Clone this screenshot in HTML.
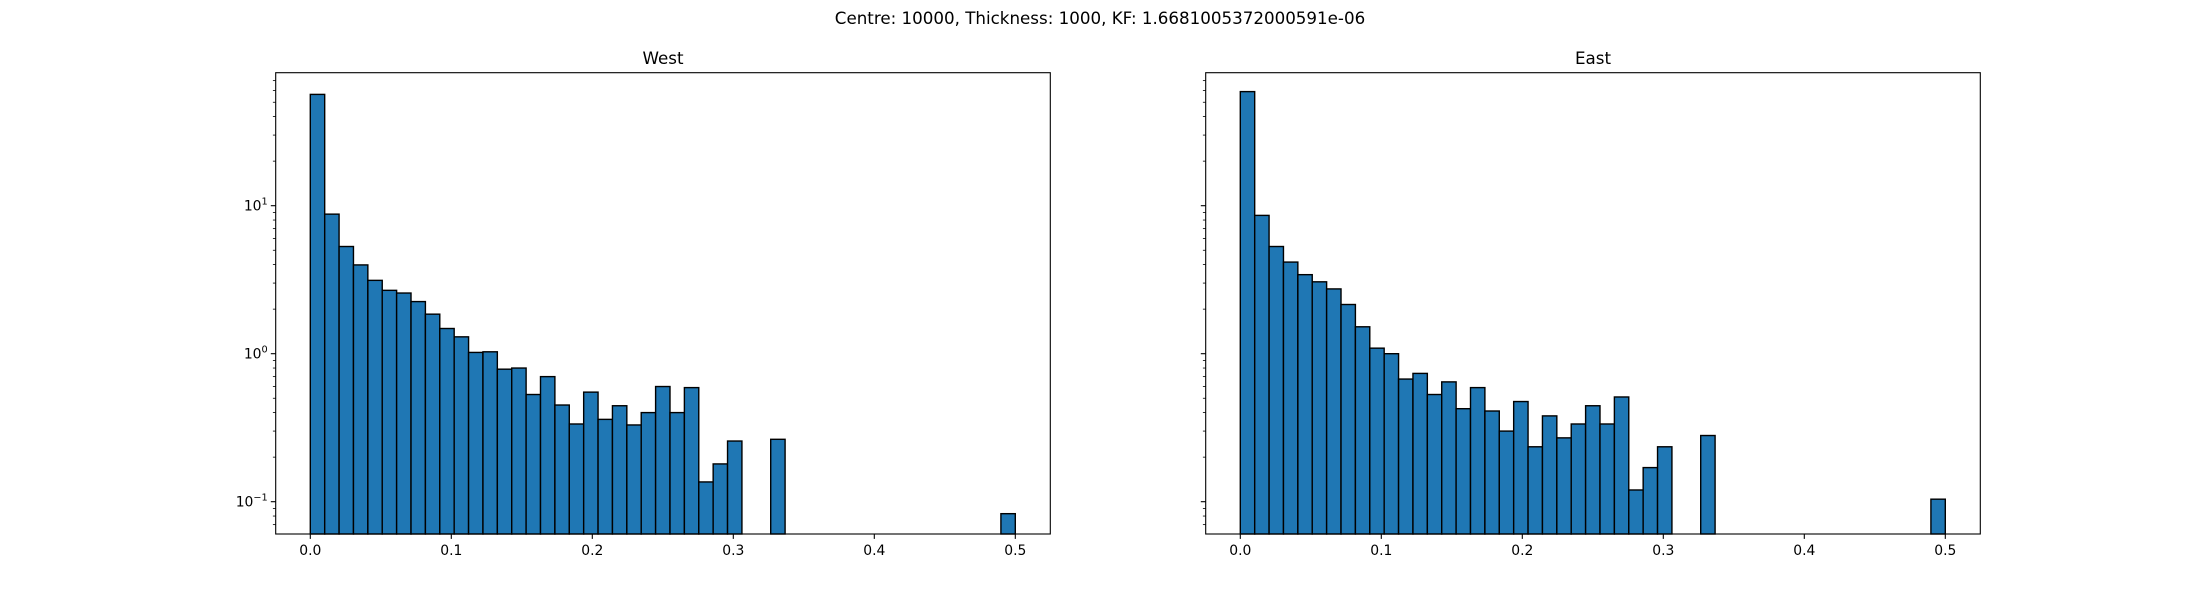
<!DOCTYPE html>
<html><head><meta charset="utf-8"><style>
body{margin:0;background:#fff}
svg text{font-family:"DejaVu Sans","Liberation Sans",sans-serif;fill:#000}
</style></head><body>
<svg id="fig" width="2200" height="600" xmlns="http://www.w3.org/2000/svg">
<text x="1100" y="24" font-size="16.7" text-anchor="middle">Centre: 10000, Thickness: 1000, KF: 1.6681005372000591e-06</text>
</svg>
<script>
const binCount = 49;
const binMax = 0.5;
const westIndices = [0,1,2,3,4,5,6,7,8,9,10,11,12,13,14,15,16,17,18,19,20,21,22,23,24,25,26,27,28,29,32,48];
const westValues = [56.5,8.77,5.3,3.98,3.13,2.68,2.57,2.25,1.85,1.48,1.30,1.02,1.03,0.786,0.80,0.53,0.70,0.45,0.335,0.55,0.36,0.445,0.33,0.40,0.60,0.40,0.59,0.136,0.18,0.257,0.264,0.083];
const eastIndices = [0,1,2,3,4,5,6,7,8,9,10,11,12,13,14,15,16,17,18,19,20,21,22,23,24,25,26,27,28,29,32,48];
const eastValues = [59.0,8.6,5.3,4.16,3.42,3.06,2.74,2.15,1.52,1.09,1.0,0.674,0.736,0.53,0.645,0.425,0.59,0.41,0.30,0.475,0.235,0.38,0.27,0.335,0.445,0.335,0.51,0.12,0.17,0.235,0.28,0.104];
const xTicks = [0.0,0.1,0.2,0.3,0.4,0.5];
const xTickLabels = ["0.0","0.1","0.2","0.3","0.4","0.5"];
const yDecades = [-1,0,1];
const yTickLabels = ["10","10","10"];
const yTickExps = ["\u22121","0","1"];

const NS="http://www.w3.org/2000/svg";
const svg=document.getElementById('fig');
function mk(tag,attrs,parent){const e=document.createElementNS(NS,tag);for(const k in attrs)e.setAttribute(k,attrs[k]);(parent||svg).appendChild(e);return e;}
const axTop=72.7,axBottom=534;
function yScale(v){return 353.7-148*Math.log10(v);}
function panel(left,right,title,indices,values,showYLabels,key){
  const x0=left+34.6;
  function xScale(v){return x0+v*1410;}
  const g=mk('g',{});
  
  
  const w=binMax/binCount;
  indices.forEach((bi,i)=>{
    const xa=xScale(bi*w),xb=xScale((bi+1)*w),yt=yScale(values[i]);
    const r=mk('rect',{x:xa,y:yt,width:xb-xa,height:axBottom-yt,fill:'#1f77b4',stroke:'#000','stroke-width':1.4},g);
    
    
  });
  const frame=mk('rect',{x:left,y:axTop,width:right-left,height:axBottom-axTop,fill:'none',stroke:'#000','stroke-width':1.1},g);
  
  
  xTicks.forEach((t,i)=>{
    const x=xScale(t);
    mk('line',{x1:x,x2:x,y1:axBottom,y2:axBottom+4.9,stroke:'#000','stroke-width':1.1},g);
    const tx=mk('text',{x:x,y:axBottom+21,'font-size':13.9,'text-anchor':'middle'},g);
    tx.textContent=xTickLabels[i];
    
    
  });
  yDecades.forEach((d,i)=>{
    const y=yScale(Math.pow(10,d));
    mk('line',{x1:left-4.9,x2:left,y1:y,y2:y,stroke:'#000','stroke-width':1.1},g);
    if(showYLabels){
      const tx=mk('text',{x:left-8,y:y+5,'font-size':13.9,'text-anchor':'end'},g);
      
      
      const b=document.createElementNS(NS,'tspan');b.textContent=yTickLabels[i];tx.appendChild(b);
      const s=document.createElementNS(NS,'tspan');s.setAttribute('dy','-6');s.setAttribute('font-size','9.7');s.textContent=yTickExps[i];tx.appendChild(s);
    }
  });
  for(let d=-2;d<=1;d++){for(let m=2;m<=9;m++){const v=m*Math.pow(10,d);const y=yScale(v);if(y<axTop||y>axBottom)continue;mk('line',{x1:left-2.8,x2:left,y1:y,y2:y,stroke:'#000','stroke-width':0.8},g);}}
  const tt=mk('text',{x:(left+right)/2,y:64,'font-size':16.7,'text-anchor':'middle'},g);
  tt.textContent=title;
  
  
}
panel(275.7,1050.3,'West',westIndices,westValues,true,'west');
panel(1205.7,1980.3,'East',eastIndices,eastValues,false,'east');
</script>
</body></html>
